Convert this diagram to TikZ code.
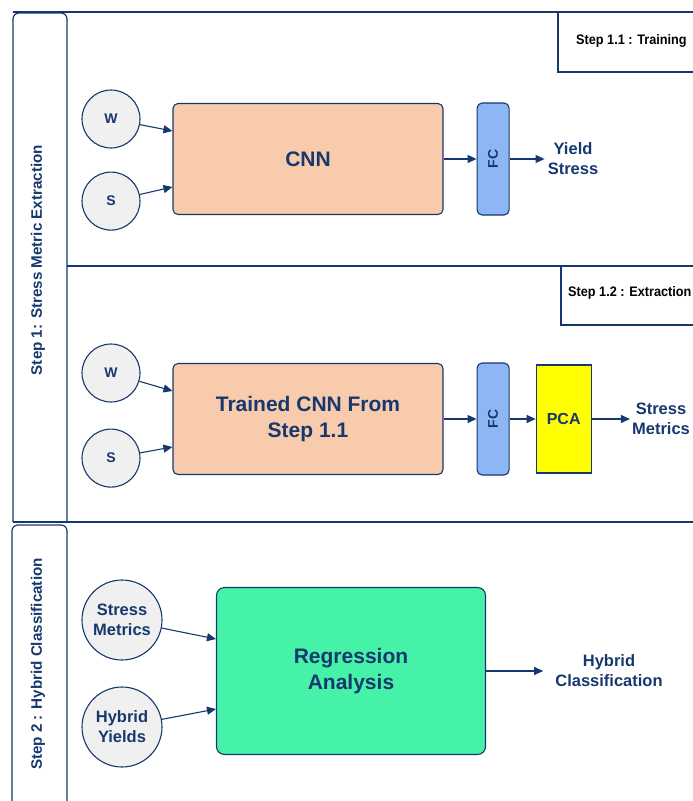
\documentclass[tikz,border=0pt]{standalone}
\usepackage{fontspec}
\setmainfont{Liberation Sans}
\usetikzlibrary{arrows.meta,positioning,calc}
\definecolor{navy}{HTML}{17386E}
\definecolor{peach}{HTML}{F8CBAD}
\definecolor{fcblue}{HTML}{8DB6F5}
\definecolor{pcayellow}{HTML}{FFFF00}
\definecolor{regreen}{HTML}{45F2A8}
\definecolor{inputgray}{HTML}{F0F0F0}
\newcommand{\steplabel}[1]{\scalebox{0.92}[1]{#1}}

\begin{document}
\begin{tikzpicture}[x=1pt, y=-1pt,
    every node/.style={text=navy, align=center, font=\bfseries},
    lane/.style={draw=navy, line width=1.2pt},
    block/.style={draw=navy, line width=1.1pt, rounded corners=5pt, inner sep=0pt, font=\bfseries\fontsize{21}{26}\selectfont},
    thin block/.style={block, minimum width=32pt, minimum height=112pt, fill=fcblue, font=\bfseries\fontsize{14}{16}\selectfont},
    input/.style={draw=navy, circle, fill=inputgray, line width=1.1pt, inner sep=0pt},
    outlabel/.style={inner sep=3pt, font=\bfseries\fontsize{16.5}{20}\selectfont},
    steptag/.style={text=black, anchor=west, inner sep=0pt, font=\bfseries\fontsize{13.8}{16}\selectfont},
    flow/.style={draw=navy, line width=1.1pt, -{Triangle[length=9pt,width=8pt]}}]
    \useasboundingbox (0,0) rectangle (693,801);
    \clip (0,0) rectangle (693,801);

    % lanes
    \draw[lane] (13,12) -- (710,12);
    \draw[lane, rounded corners=6pt] (13,522) -- (13,13) -- (67,13) -- (67,522);
    \draw[lane, rounded corners=6pt] (12,820) -- (12,525) -- (67,525) -- (67,820);
    \draw[lane] (67,266) -- (710,266);
    \draw[lane] (13,522) -- (710,522);
    \node[rotate=90, font=\bfseries\fontsize{15.2}{18}\selectfont] (lane1) at (38,260) {Step 1: Stress Metric Extraction};
    \node[rotate=90, font=\bfseries\fontsize{15.2}{18}\selectfont] (lane2) at (38,664) {Step 2 : Hybrid Classification};

    % step 1.1 : training
    \draw[lane] (558,12) rectangle (710,72);
    \node[steptag] (tag1) at (576,41) {\steplabel{Step 1.1 : Training}};
    \node[block, fill=peach, minimum width=270pt, minimum height=111pt] (cnn) at (308,159) {CNN};
    \node[thin block, right=33pt of cnn] (fc1) {\rotatebox{90}{FC}};
    \node[outlabel] (yield) at (573,159) {Yield\\Stress};
    \node[input, minimum size=58pt, font=\bfseries\fontsize{14}{16}\selectfont] (w1) at (111,119) {W};
    \node[input, minimum size=58pt, font=\bfseries\fontsize{14}{16}\selectfont, below=23pt of w1] (s1) {S};
    \draw[flow] (w1) -- ($(cnn.west)+(0,-28)$);
    \draw[flow] (s1) -- ($(cnn.west)+(0,28)$);
    \draw[flow] (cnn.east) -- (fc1.west);
    \draw[flow] (fc1.east) -- (yield.west);

    % step 1.2 : extraction
    \draw[lane] (561,266) rectangle (710,325);
    \node[steptag] (tag2) at (568,293) {\steplabel{Step 1.2 : Extraction}};
    \node[block, fill=peach, minimum width=270pt, minimum height=111pt] (tcnn) at (308,419) {Trained CNN From\\Step 1.1};
    \node[thin block, right=33pt of tcnn] (fc2) {\rotatebox{90}{FC}};
    \node[block, fill=pcayellow, minimum width=55pt, minimum height=108pt, rounded corners=0pt, font=\bfseries\fontsize{16}{19}\selectfont, right=26pt of fc2] (pca) {PCA};
    \node[outlabel, inner sep=2pt] (metrics) at (661,419) {Stress\\Metrics};
    \node[input, minimum size=58pt, font=\bfseries\fontsize{14}{16}\selectfont] (w2) at (111,373) {W};
    \node[input, minimum size=58pt, font=\bfseries\fontsize{14}{16}\selectfont, below=26pt of w2] (s2) {S};
    \draw[flow] (w2) -- ($(tcnn.west)+(0,-28)$);
    \draw[flow] (s2) -- ($(tcnn.west)+(0,28)$);
    \draw[flow] (tcnn.east) -- (fc2.west);
    \draw[flow] (fc2.east) -- (pca.west);
    \draw[flow] (pca.east) -- (metrics.west);

    % step 2 : hybrid classification
    \node[block, fill=regreen, minimum width=269pt, minimum height=167pt, rounded corners=8pt] (reg) at (351,671) {Regression\\Analysis};
    \node[input, minimum size=80pt, font=\bfseries\fontsize{16.5}{20}\selectfont] (sm) at (122,620) {Stress\\Metrics};
    \node[input, minimum size=80pt, font=\bfseries\fontsize{16.5}{20}\selectfont] (hy) at (122,727) {Hybrid\\Yields};
    \node[outlabel, inner sep=12pt] (hc) at (609,671) {Hybrid\\Classification};
    \draw[flow] (sm) -- ($(reg.west)+(0,-32)$);
    \draw[flow] (hy) -- ($(reg.west)+(0,38)$);
    \draw[flow] (reg.east) -- (hc.west);
\end{tikzpicture}
\end{document}
